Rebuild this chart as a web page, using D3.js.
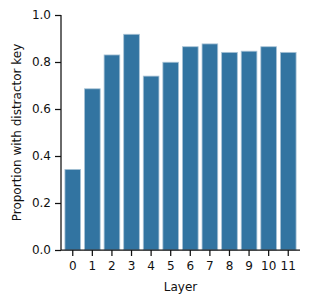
<!DOCTYPE html>
<html>
<head>
<meta charset="utf-8">
<script src="https://cdn.jsdelivr.net/npm/d3@7"></script>
<style>
body { margin: 0; background: #fff; }
svg text { font-family: "DejaVu Sans", sans-serif; fill: #111; }
</style>
</head>
<body>
<svg width="317" height="305"></svg>
<script>
var layers = ["0", "1", "2", "3", "4", "5", "6", "7", "8", "9", "10", "11"];
var proportions = [0.343, 0.686, 0.830, 0.918, 0.740, 0.799, 0.865, 0.877, 0.841, 0.846, 0.865, 0.841];
var yTicks = [0, 0.2, 0.4, 0.6, 0.8, 1.0];

var svg = d3.select("svg");
var mLeft = 61, mRight = 300, mTop = 15, mBottom = 250;

var x = d3.scaleBand().domain(layers).range([mLeft, mRight]).padding(0.2);
var y = d3.scaleLinear().domain([0, 1]).range([mBottom, mTop]);

svg.selectAll(".bar")
    .data(proportions)
    .enter()
    .append("rect")
    .attr("class", "bar")
    .attr("x", function (d, i) { return x(layers[i]); })
    .attr("y", function (d) { return y(d); })
    .attr("width", x.bandwidth())
    .attr("height", function (d) { return mBottom - y(d); })
    .attr("fill", "#3274a1")
    .attr("stroke", "#a9c3d6")
    .attr("stroke-width", 0.8);

var yAxis = svg.append("g")
    .attr("transform", "translate(" + mLeft + ",0)")
    .call(d3.axisLeft(y).tickValues(yTicks).tickFormat(d3.format(".1f")).tickSize(6).tickPadding(4));

var xAxis = svg.append("g")
    .attr("transform", "translate(0," + mBottom + ")")
    .call(d3.axisBottom(x).tickSize(6).tickPadding(5));

[xAxis, yAxis].forEach(function (g) {
    g.select(".domain").attr("stroke", "#111").attr("stroke-width", 1.25);
    g.selectAll(".tick line").attr("stroke", "#111").attr("stroke-width", 1.25);
    g.selectAll(".tick text").attr("font-size", 12).attr("font-family", "DejaVu Sans").attr("fill", "#111");
});
// straight spines, no outer ticks
yAxis.select(".domain").attr("d", "M0," + mTop + "V" + mBottom);
xAxis.select(".domain").attr("d", "M" + mLeft + ",0H" + mRight);

svg.append("text")
    .attr("x", (mLeft + mRight) / 2)
    .attr("y", 291)
    .attr("text-anchor", "middle")
    .attr("font-size", 12)
    .text("Layer");

svg.append("text")
    .attr("transform", "translate(21," + (mTop + mBottom) / 2 + ") rotate(-90)")
    .attr("text-anchor", "middle")
    .attr("font-size", 12)
    .text("Proportion with distractor key");
</script>
</body>
</html>
